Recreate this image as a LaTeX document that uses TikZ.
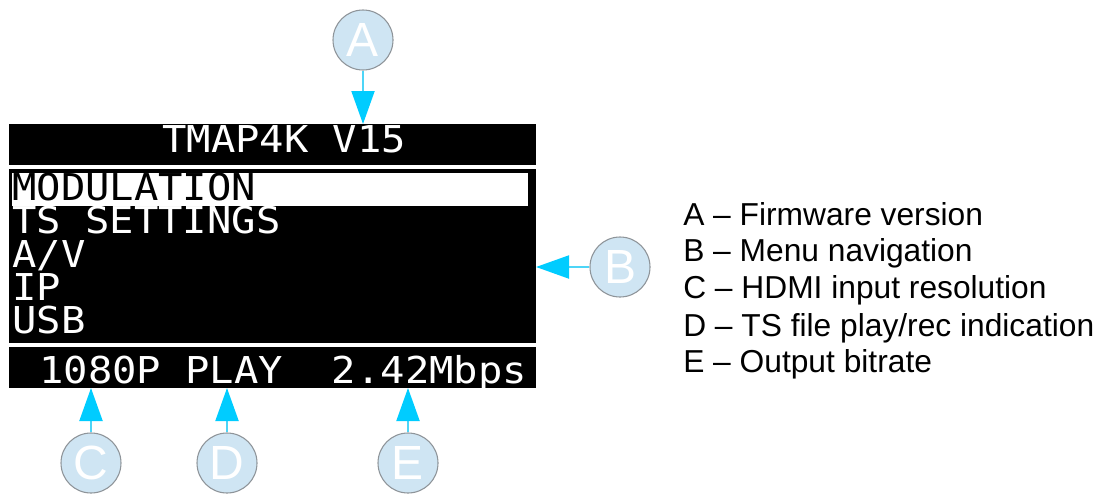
\documentclass[tikz,border=0pt]{standalone}
\usepackage{fontspec}
\usetikzlibrary{arrows.meta}
\setmainfont{Liberation Sans}
\newfontfamily\lcd[FakeStretch=1.095]{DejaVu Sans Mono}
\definecolor{bubble}{HTML}{CFE5F3}
\definecolor{bubbleline}{HTML}{8E9499}
\definecolor{tipcyan}{HTML}{00CCFF}
\definecolor{stemcyan}{HTML}{4DD5F7}
\tikzset{
  panel/.style={fill=black,draw=none,inner sep=0pt,minimum width=395.25pt},
  lcdtext/.style={anchor=base west,inner sep=0pt,text=white,text height=20pt,text depth=0pt,font=\lcd\fontsize{27.75}{27.75}\selectfont},
  lcdinv/.style={lcdtext,text=black},
  callout/.style={circle,fill=bubble,draw=bubbleline,line width=0.8pt,minimum size=45pt,inner sep=0pt,text=white,font=\fontsize{36}{36}\selectfont},
  pointer/.style={draw=stemcyan,line width=1.5pt,-{Triangle[width=17.25pt,length=24.75pt,color=tipcyan]},shorten >=0pt},
  legend/.style={anchor=base west,inner sep=0pt,text=black,font=\fontsize{23.8}{23.8}\selectfont}
}
\begin{document}
\begin{tikzpicture}[x=0.75pt,y=-0.75pt]
\useasboundingbox (0,0) rectangle (1106,493);
% screen panels
\node[panel,minimum height=30.75pt] (top) at (272.5,144.5) {};
\node[panel,minimum height=130.5pt] (mid) at (272.5,256) {};
\node[panel,minimum height=30.75pt] (bot) at (272.5,367.5) {};
\node[fill=white,inner sep=0pt,minimum width=387pt,minimum height=24.75pt] (hl) at (270,189.5) {};
% screen texts
\node[lcdtext] (t0) at (162,152) {TMAP4K V15};
\node[lcdinv] (t1) at (12,200.5) {MODULATION};
\node[lcdtext] (t2) at (12,233.5) {TS SETTINGS};
\node[lcdtext] (t3) at (12,267) {A/V};
\node[lcdtext] (t4) at (12,300) {IP};
\node[lcdtext] (t5) at (12,333) {USB};
\node[lcdtext] (t6) at (39,383) {1080P PLAY~~2.42Mbps};
% callouts
\node[callout] (A) at (363,40) {A};
\node[callout] (B) at (620,267) {B};
\node[callout] (C) at (91,463) {C};
\node[callout] (D) at (227,463) {D};
\node[callout] (E) at (408,463) {E};
\coordinate (ta) at (363,124);
\coordinate (tb) at (536,267);
\coordinate (tc) at (91,388);
\coordinate (td) at (227,388);
\coordinate (te) at (408,388);
\draw[pointer] (A) -- (ta);
\draw[pointer] (B) -- (tb);
\draw[pointer] (C) -- (tc);
\draw[pointer] (D) -- (td);
\draw[pointer] (E) -- (te);
% legend
\node[legend] (la) at (683,225) {A – Firmware version};
\node[legend] (lb) at (683,261.5) {B – Menu navigation};
\node[legend] (lc) at (683,298) {C – HDMI input resolution};
\node[legend] (ld) at (683,336) {D – TS file play/rec indication};
\node[legend] (le) at (683,372.5) {E – Output bitrate};
\end{tikzpicture}
\end{document}
